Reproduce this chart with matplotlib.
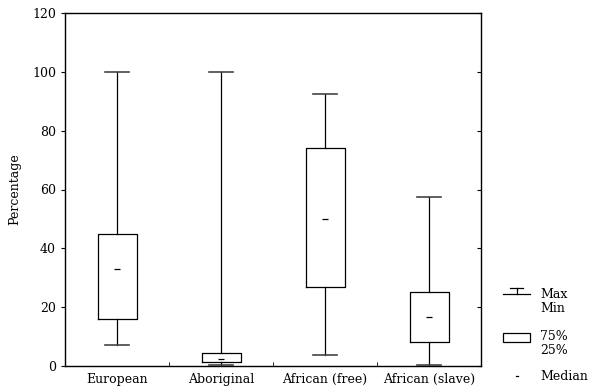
import matplotlib
matplotlib.use('Agg')
import matplotlib.pyplot as plt
from matplotlib.patches import Rectangle

plt.rcParams['font.family'] = ['DejaVu Serif']
plt.rcParams['font.size'] = 9

# ── data ──
categories = ['European', 'Aboriginal', 'African (free)', 'African (slave)']
max_vals = [100, 100, 92.5, 57.5]
q3_vals = [45, 4.5, 74, 25]
median_vals = [33, 2.3, 50, 16.5]
q1_vals = [16, 1.5, 27, 8]
min_vals = [7, 0.5, 3.7, 0.2]

fig = plt.figure(figsize=(5.89, 3.90), dpi=100)
ax = fig.add_axes([65/589, 1 - 366/390, 416/589, 353/390])

stats = []
for i in range(len(categories)):
    stats.append(dict(med=median_vals[i], q1=q1_vals[i], q3=q3_vals[i],
                      whislo=min_vals[i], whishi=max_vals[i], fliers=[]))

pos = [1, 2, 3, 4]
bp = ax.bxp(stats, positions=pos, widths=0.375, capwidths=0.24,
            showfliers=False,
            boxprops=dict(color='black', linewidth=0.9),
            whiskerprops=dict(color='black', linewidth=0.9),
            capprops=dict(color='#444444', linewidth=1.2),
            medianprops=dict(color='black', linewidth=0.9))
# 中位数画成短横线
for p, line in zip(pos, bp['medians']):
    line.set_xdata([p - 0.025, p + 0.025])

ax.set_xlim(0.5, 4.5)
ax.set_ylim(0, 120)
ax.set_yticks([0, 20, 40, 60, 80, 100, 120])
ax.set_xticks(pos)
ax.set_xticklabels(categories, fontsize=9)
ax.set_xticks([1.5, 2.5, 3.5], minor=True)
ax.tick_params(axis='x', which='major', length=0, pad=5)
ax.tick_params(axis='x', which='minor', length=3, direction='in')
ax.tick_params(axis='y', which='major', length=3, direction='out', labelsize=9)
ax.set_ylabel('Percentage', labelpad=8, fontsize=9)
for s in ax.spines.values():
    s.set_linewidth(1.0)
    s.set_color('#333333')

# 右侧内向刻度
ax2 = ax.twinx()
ax2.set_ylim(0, 120)
ax2.set_yticks([0, 20, 40, 60, 80, 100, 120])
ax2.tick_params(axis='y', length=3, direction='in', labelright=False)

# ── 图例（手绘在右侧） ──
lax = fig.add_axes([490/589, 0, 99/589, 1])
lax.set_xlim(0, 99)
lax.set_ylim(390, 0)
lax.axis('off')
lax.plot([20, 33], [288, 288], color='black', lw=0.9)
lax.plot([26.5, 26.5], [288, 294], color='black', lw=0.9)
lax.plot([13, 40], [294, 294], color='black', lw=0.9)
lax.text(50, 295, 'Max', va='center', fontsize=9)
lax.text(50, 309, 'Min', va='center', fontsize=9)
lax.add_patch(Rectangle((13, 333), 27, 9, fill=False, ec='black', lw=0.9))
lax.text(50, 337, '75%', va='center', fontsize=9)
lax.text(50, 351, '25%', va='center', fontsize=9)
lax.plot([25.5, 28], [376, 376], color='black', lw=0.9)
lax.text(50, 377, 'Median', va='center', fontsize=9)

fig.savefig('out.png', dpi=100, facecolor='white')
